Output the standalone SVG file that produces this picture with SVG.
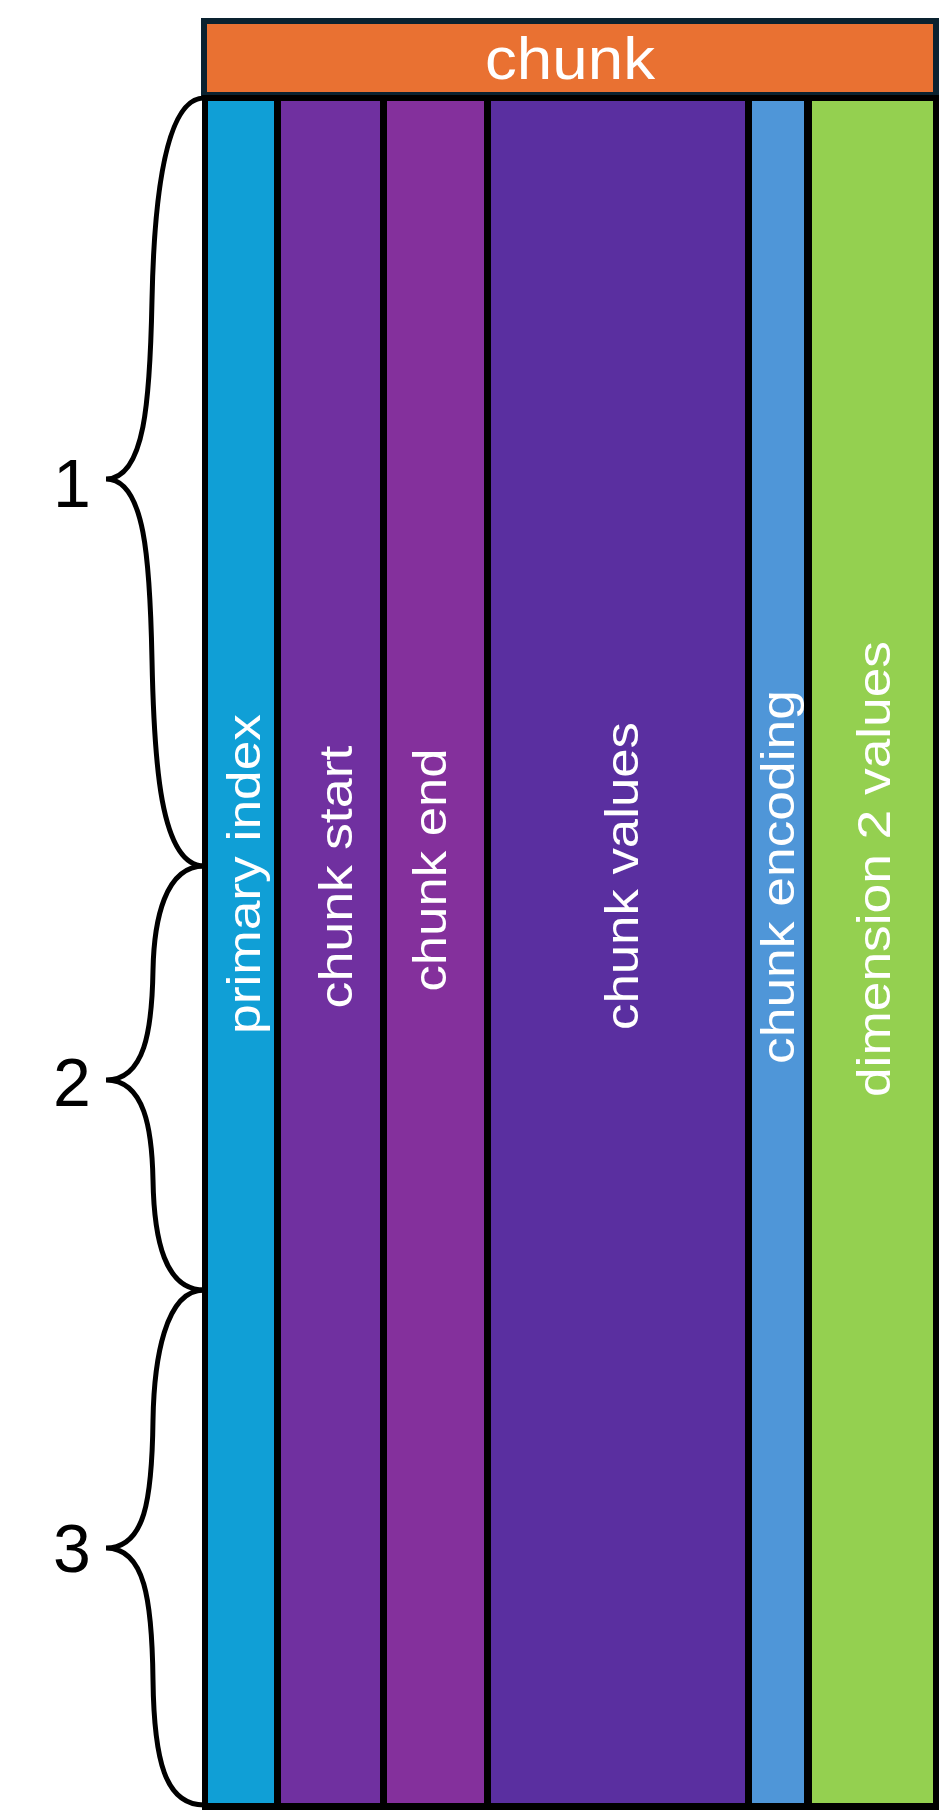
<svg xmlns="http://www.w3.org/2000/svg" width="939" height="1810" viewBox="0 0 939 1810">
<style>
.lbl{font-family:"Liberation Sans",Arial,sans-serif;font-size:46px;fill:#ffffff}
.hdr{font-size:60px}
.num{font-family:"Liberation Sans",Arial,sans-serif;font-size:68px;fill:#000000;text-anchor:middle}
.brace{fill:none;stroke:#000;stroke-width:5}
</style>
<rect width="939" height="1810" fill="#fff"/>
<g id="header">
<rect x="204" y="21" width="732" height="74" fill="#E97132" stroke="#0a2230" stroke-width="6"/>
<text class="lbl hdr" x="570" y="79" text-anchor="middle" textLength="170" lengthAdjust="spacingAndGlyphs">chunk</text>
</g>
<rect x="202" y="95" width="737" height="1715" fill="#000"/>
<g id="col-primary-index">
<rect x="208" y="101" width="66" height="1702" fill="#109FD6"/>
<text class="lbl" transform="translate(260,874) rotate(-90)" text-anchor="middle" textLength="320" lengthAdjust="spacingAndGlyphs">primary index</text>
</g>
<g id="col-chunk-start">
<rect x="281" y="101" width="99" height="1702" fill="#7030A0"/>
<text class="lbl" transform="translate(352,877) rotate(-90)" text-anchor="middle" textLength="263" lengthAdjust="spacingAndGlyphs">chunk start</text>
</g>
<g id="col-chunk-end">
<rect x="387" y="101" width="97" height="1702" fill="#84309C"/>
<text class="lbl" transform="translate(446,870) rotate(-90)" text-anchor="middle" textLength="243" lengthAdjust="spacingAndGlyphs">chunk end</text>
</g>
<g id="col-chunk-values">
<rect x="491" y="101" width="254" height="1702" fill="#5A2FA0"/>
<text class="lbl" transform="translate(638,876) rotate(-90)" text-anchor="middle" textLength="308" lengthAdjust="spacingAndGlyphs">chunk values</text>
</g>
<g id="col-chunk-encoding">
<rect x="752" y="101" width="52" height="1702" fill="#4F96D8"/>
<text class="lbl" transform="translate(794,877) rotate(-90)" text-anchor="middle" textLength="374" lengthAdjust="spacingAndGlyphs">chunk encoding</text>
</g>
<g id="col-dimension-2-values">
<rect x="812" y="101" width="121" height="1702" fill="#94D050"/>
<text class="lbl" transform="translate(890,869) rotate(-90)" text-anchor="middle" textLength="456" lengthAdjust="spacingAndGlyphs">dimension 2 values</text>
</g>
<g id="braces">
<path class="brace" d="M204,98 C165,98 154,200 152,300 C150,400 145,479 106,479 C145,479 150,560 152,660 C154,760 160,866 204,866"/>
<path class="brace" d="M204,866 C165,866 154,920 153,970 C152,1030 145,1080 106,1080 C145,1080 152,1130 153,1180 C154,1240 165,1290 204,1290"/>
<path class="brace" d="M204,1290 C165,1290 154,1360 153,1420 C152,1500 145,1548 106,1548 C145,1548 152,1600 153,1680 C154,1760 165,1805 204,1805"/>
</g>
<g id="labels">
<text class="num" x="72" y="507">1</text>
<text class="num" x="72" y="1106">2</text>
<text class="num" x="72" y="1572">3</text>
</g>
</svg>
